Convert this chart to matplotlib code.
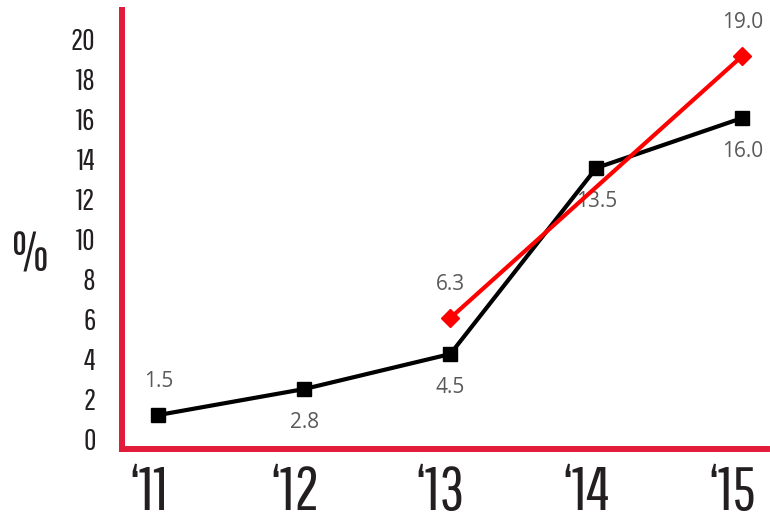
import matplotlib
matplotlib.use("Agg")
import matplotlib.pyplot as plt
import matplotlib.transforms as mtransforms
from matplotlib import font_manager as fm

years = ["‘11", "‘12", "‘13", "‘14", "‘15"]
black_vals = [1.15, 2.45, 4.2, 13.5, 16.0]
black_labels = ["1.5", "2.8", "4.5", "13.5", "16.0"]
red_x = [2, 4]
red_vals = [6.0, 19.1]
red_labels = ["6.3", "19.0"]
yticks = list(range(0, 21, 2))

names = {f.name for f in fm.fontManager.ttflist}
cond = ["Pathway Gothic One", "DejaVu Sans"] if "Pathway Gothic One" in names else ["DejaVu Sans"]
lab_font = ["Open Sans", "DejaVu Sans"]

RED_AX = "#E31B3A"
INK = "#231F20"
fig = plt.figure(figsize=(7.7, 5.21), dpi=100)
ax = fig.add_axes([122/770, 1-449/521, (767-122)/770, (449-10)/521])

xs = list(range(len(years)))
ax.plot(xs, black_vals, color="black", lw=3, marker="s", ms=10.5, zorder=3)
ax.plot(red_x, red_vals, color="#FF0000", lw=3, marker="D", ms=9, zorder=4)

below = [False, True, True, True, True]
for x, v, t, b in zip(xs, black_vals, black_labels, below):
    ax.annotate(t, (x, v), xytext=(0, -24 if b else 24), textcoords="offset points",
                ha="center", va="center", fontsize=15, color="#595959", family=lab_font)
for x, v, t in zip(red_x, red_vals, red_labels):
    ax.annotate(t, (x, v), xytext=(0, 24), textcoords="offset points",
                ha="center", va="center", fontsize=15, color="#595959", family=lab_font)

ax.set_xlim(-0.25, 4.17)
ax.set_ylim(-0.55, 21.4)
ax.set_xticks(xs)
ax.set_xticklabels(years, family=cond, fontsize=44, color=INK)
ax.set_yticks(yticks)
ax.set_yticklabels([str(y) for y in yticks], family=cond, fontsize=22, color=INK)
ax.tick_params(axis="both", length=0)
ax.tick_params(axis="y", pad=19)
ax.tick_params(axis="x", pad=11)
shift = mtransforms.ScaledTranslation(-10/100, 0, fig.dpi_scale_trans)
for lbl in ax.get_xticklabels():
    lbl.set_transform(lbl.get_transform() + shift)
for s in ["top", "right"]:
    ax.spines[s].set_visible(False)
for s in ["left", "bottom"]:
    ax.spines[s].set_color(RED_AX)
    ax.spines[s].set_linewidth(4.3)

fig.text(30/770, 1-256/521, "%", family=cond, fontsize=38, color=INK,
         ha="center", va="center")

fig.savefig("out.png", dpi=100)
